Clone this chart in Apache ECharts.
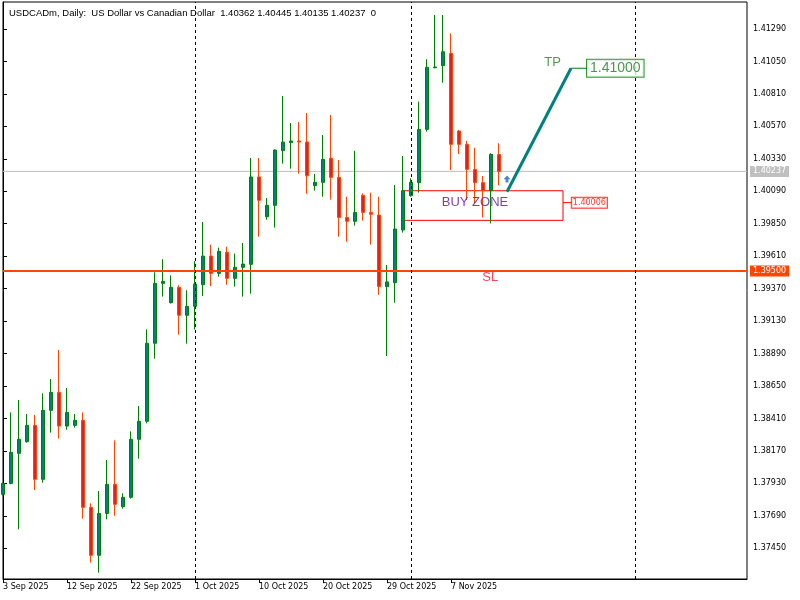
<!DOCTYPE html>
<html><head><meta charset="utf-8">
<script src="https://cdn.jsdelivr.net/npm/echarts@6/dist/echarts.min.js"></script>
<style>html,body{margin:0;padding:0;background:#fff}#c{width:800px;height:600px}</style>
</head><body><div id="c"></div>
<script>
// ---- data ----
const dates = ['3 Sep 2025','4 Sep 2025','5 Sep 2025','7 Sep 2025','8 Sep 2025','9 Sep 2025','10 Sep 2025','11 Sep 2025','12 Sep 2025','14 Sep 2025',
'15 Sep 2025','16 Sep 2025','17 Sep 2025','18 Sep 2025','19 Sep 2025','21 Sep 2025','22 Sep 2025','23 Sep 2025','24 Sep 2025','25 Sep 2025',
'26 Sep 2025','28 Sep 2025','29 Sep 2025','30 Sep 2025','1 Oct 2025','2 Oct 2025','3 Oct 2025','5 Oct 2025','6 Oct 2025','7 Oct 2025',
'8 Oct 2025','9 Oct 2025','10 Oct 2025','12 Oct 2025','13 Oct 2025','14 Oct 2025','15 Oct 2025','16 Oct 2025','17 Oct 2025','19 Oct 2025',
'20 Oct 2025','21 Oct 2025','22 Oct 2025','23 Oct 2025','24 Oct 2025','26 Oct 2025','27 Oct 2025','28 Oct 2025','29 Oct 2025','30 Oct 2025',
'31 Oct 2025','2 Nov 2025','3 Nov 2025','4 Nov 2025','5 Nov 2025','6 Nov 2025','7 Nov 2025','9 Nov 2025','10 Nov 2025','11 Nov 2025',
'12 Nov 2025','13 Nov 2025','14 Nov 2025'];
const futureDates = ['16 Nov 2025','17 Nov 2025','18 Nov 2025','19 Nov 2025','20 Nov 2025','21 Nov 2025','23 Nov 2025','24 Nov 2025','25 Nov 2025','26 Nov 2025',
'27 Nov 2025','28 Nov 2025','30 Nov 2025','1 Dec 2025','2 Dec 2025','3 Dec 2025','4 Dec 2025','5 Dec 2025','7 Dec 2025','8 Dec 2025',
'9 Dec 2025','10 Dec 2025','11 Dec 2025','12 Dec 2025','14 Dec 2025','15 Dec 2025','16 Dec 2025','17 Dec 2025','18 Dec 2025','19 Dec 2025','21 Dec 2025'];
const opens  = [1.37849,1.37930,1.38152,1.38238,1.38359,1.37960,1.38470,1.38603,1.38354,1.38359,
1.38396,1.37753,1.37398,1.37708,1.37923,1.37758,1.37827,1.38256,1.38389,1.38966,
1.39409,1.39266,1.39380,1.39173,1.39239,1.39399,1.39611,1.39483,1.39639,1.39446,
1.39528,1.39550,1.40196,1.39902,1.39986,1.40390,1.40450,1.40462,1.40454,1.40132,
1.40156,1.40334,1.40193,1.39897,1.39868,1.40060,1.39934,1.39914,1.39385,1.39414,
1.39804,1.40057,1.40154,1.40548,1.41004,1.41019,1.41110,1.40536,1.40437,1.40252,
1.40154,1.40094,1.40362];
const highs  = [1.37935,1.38455,1.38547,1.38443,1.38436,1.38596,1.38702,1.38916,1.38635,1.38443,
1.38455,1.37782,1.37874,1.38103,1.38248,1.37856,1.38315,1.38502,1.39069,1.39491,
1.39588,1.39468,1.39395,1.39358,1.39574,1.39863,1.39695,1.39673,1.39680,1.39629,
1.39708,1.40336,1.40336,1.40040,1.40400,1.40795,1.40595,1.40602,1.40669,1.40218,
1.40506,1.40654,1.40321,1.40050,1.40390,1.40075,1.40080,1.40050,1.39545,1.40136,
1.40351,1.40186,1.40753,1.41066,1.41394,1.41394,1.41258,1.40543,1.40462,1.40412,
1.40203,1.40371,1.40445];
const lows   = [1.37840,1.37923,1.37590,1.38231,1.37881,1.37935,1.38305,1.38261,1.38327,1.38342,
1.37669,1.37344,1.37270,1.37664,1.37691,1.37743,1.37817,1.38113,1.38374,1.38852,
1.39311,1.39260,1.39030,1.38963,1.39067,1.39316,1.39390,1.39459,1.39399,1.39385,
1.39311,1.39333,1.39754,1.39880,1.39821,1.40294,1.40257,1.40220,1.40072,1.40095,
1.40050,1.40028,1.39754,1.39717,1.39836,1.39873,1.39695,1.39324,1.38872,1.39266,
1.39784,1.40050,1.40080,1.40531,1.40999,1.40893,1.40247,1.40366,1.40025,1.40001,
1.39897,1.39853,1.40135];
const closes = [1.37930,1.38160,1.38256,1.38359,1.37960,1.38470,1.38603,1.38354,1.38455,1.38396,
1.37753,1.37398,1.37708,1.37923,1.37775,1.37827,1.38256,1.38389,1.38966,1.39409,
1.39424,1.39380,1.39173,1.39239,1.39403,1.39611,1.39483,1.39646,1.39446,1.39528,
1.39552,1.40196,1.40023,1.39986,1.40395,1.40454,1.40462,1.40454,1.40205,1.40156,
1.40326,1.40193,1.39897,1.39868,1.39934,1.39934,1.39920,1.39385,1.39420,1.39811,
1.40094,1.40156,1.40548,1.41007,1.41009,1.41122,1.40437,1.40437,1.40252,1.40154,
1.40094,1.40363,1.40237];
const yTicks = [1.37450,1.37690,1.37930,1.38170,1.38410,1.38650,1.38890,1.39130,1.39370,1.39610,1.39850,1.40090,1.40330,1.40570,1.40810,1.41050,1.41290];
const xLabelIdx = [0,8,16,24,32,40,48,56];
const separatorIdx = [24,51,79];
const slPrice = 1.39500;
const lastPrice = 1.40237;
const entryPrice = 1.40006;
const tpPrice = 1.41000;
const zoneTop = 1.40094, zoneBottom = 1.39875, zoneStartIdx = 50, zoneEndIdx = 70;
const tpLinePts = [[63, 1.40087], [71, 1.41000]];
const tpConnector = [[71, 1.41000], [73, 1.41000]];
const entryConnector = [[70, 1.40006], [71.1, 1.40006]];
const arrowPt = [63, 1.40181];
const tpTextPt = [68.7, 1.41046];
const slTextPt = [60.9, 1.39456];
const zoneTextPt = [59.0, 1.40006];
const yMin = 1.372229, yMax = 1.414897;
const titleText = 'USDCADm, Daily:  US Dollar vs Canadian Dollar  1.40362 1.40445 1.40135 1.40237  0';

// ---- chart ----
const cats = dates.concat(futureDates);
const lastIdx = cats.length - 1;
const ohlc = opens.map((o, i) => [o, closes[i], lows[i], highs[i]]);
const FONT = 'DejaVu Sans';
const idxSet = new Set(xLabelIdx);

function hLine(price, color, width, z) {
  return {type: 'line', xAxisIndex: 1, data: [[0, price], [lastIdx, price]], symbol: 'none', silent: true, z: z,
    lineStyle: {color: color, width: width},
    endLabel: {show: true, distance: 3, formatter: price.toFixed(5), color: '#fff', backgroundColor: color,
      padding: [2, 3, 1, 3], fontFamily: FONT, fontSize: 8, align: 'left'}};
}

const chart = echarts.init(document.getElementById('c'), null, {renderer: 'canvas'});
chart.setOption({
  animation: false,
  backgroundColor: '#fff',
  title: {text: titleText, left: 4, top: 3, textStyle: {fontFamily: 'Liberation Sans', fontSize: 9.5, fontWeight: 'normal', color: '#000'}},
  grid: {left: 2, right: 53, top: 2, bottom: 21, show: true, borderColor: '#000', borderWidth: 1, backgroundColor: '#fff'},
  xAxis: [
    {type: 'category', data: cats, boundaryGap: false,
     axisLine: {show: true, lineStyle: {color: '#000', width: 1}},
     axisTick: {show: true, length: 4, lineStyle: {color: '#000'}, interval: (i) => idxSet.has(i)},
     axisLabel: {show: true, interval: (i) => idxSet.has(i), align: 'left', margin: 4, fontFamily: FONT, fontSize: 8, color: '#000'},
     splitLine: {show: false}},
    {type: 'value', min: 0, max: lastIdx, show: false, splitLine: {show: false}}
  ],
  yAxis: {type: 'value', position: 'right', min: yMin, max: yMax, scale: true,
    axisLine: {show: true, lineStyle: {color: '#000', width: 1}},
    axisTick: {show: true, length: 4, customValues: yTicks, lineStyle: {color: '#000'}},
    axisLabel: {show: true, customValues: yTicks, formatter: (v) => v.toFixed(5), margin: 6, fontFamily: FONT, fontSize: 8, color: '#000'},
    splitLine: {show: false}},
  series: [
    hLine(lastPrice, '#C0C0C0', 1, 1),
    {type: 'candlestick', name: 'USDCADm', xAxisIndex: 0, data: ohlc, barWidth: 4, z: 2,
     itemStyle: {color: '#008080', color0: '#E3202A', borderColor: '#008000', borderColor0: '#FF4500', borderWidth: 1},
     markLine: {silent: true, symbol: 'none', animation: false,
       data: separatorIdx.map(i => ({xAxis: i, lineStyle: {color: '#000', width: 1, type: [3, 3]}, label: {show: false}}))}},
    hLine(slPrice, '#FF4500', 2, 3),
    {type: 'line', xAxisIndex: 1, data: [], silent: true,
     markArea: {silent: true, itemStyle: {color: 'rgba(0,0,0,0)', borderColor: '#FF0000', borderWidth: 1},
       data: [[{xAxis: zoneStartIdx, yAxis: zoneTop}, {xAxis: zoneEndIdx, yAxis: zoneBottom}]], label: {show: false}}},
    {type: 'line', xAxisIndex: 1, data: tpLinePts, symbol: 'none', lineStyle: {color: '#008080', width: 3}, silent: true, z: 5},
    {type: 'line', xAxisIndex: 1, data: tpConnector, symbol: 'none', lineStyle: {color: '#008000', width: 1}, silent: true},
    {type: 'line', xAxisIndex: 1, data: entryConnector, symbol: 'none', lineStyle: {color: '#FF0000', width: 1}, silent: true},
    {type: 'scatter', xAxisIndex: 1, silent: true, z: 6,
     data: [
       {value: [tpConnector[1][0], tpPrice], symbolSize: 0,
        label: {show: true, position: 'right', distance: 0, formatter: tpPrice.toFixed(5), color: '#1F7A1F', fontFamily: 'Liberation Sans', fontSize: 14, lineHeight: 16,
                backgroundColor: '#fff', borderColor: '#008000', borderWidth: 1, padding: [1, 3, 0, 3]}},
       {value: [entryConnector[1][0], entryPrice], symbolSize: 0,
        label: {show: true, position: 'right', distance: 0, formatter: entryPrice.toFixed(5), color: '#FF0000', fontFamily: FONT, fontSize: 8, lineHeight: 9,
                backgroundColor: '#fff', borderColor: '#FF0000', borderWidth: 1, padding: [1, 1, 0, 1]}},
       {value: tpTextPt, symbolSize: 0, label: {show: true, position: 'inside', formatter: 'TP', color: '#2E7D1A', fontFamily: 'Liberation Sans', fontSize: 13}},
       {value: slTextPt, symbolSize: 0, label: {show: true, position: 'inside', formatter: 'SL', color: '#FF1030', fontFamily: 'Liberation Sans', fontSize: 13}},
       {value: zoneTextPt, symbolSize: 0, label: {show: true, position: 'inside', formatter: 'BUY ZONE', color: '#5A0FA0', fontFamily: 'Liberation Sans', fontSize: 13}},
       {value: arrowPt, symbol: 'path://M5,0 L10,5 L7,5 L7,9 L3,9 L3,5 L0,5 Z', symbolSize: [7, 7], itemStyle: {color: '#1E64C8'}}
     ]}
  ]
});
</script>
</body></html>
